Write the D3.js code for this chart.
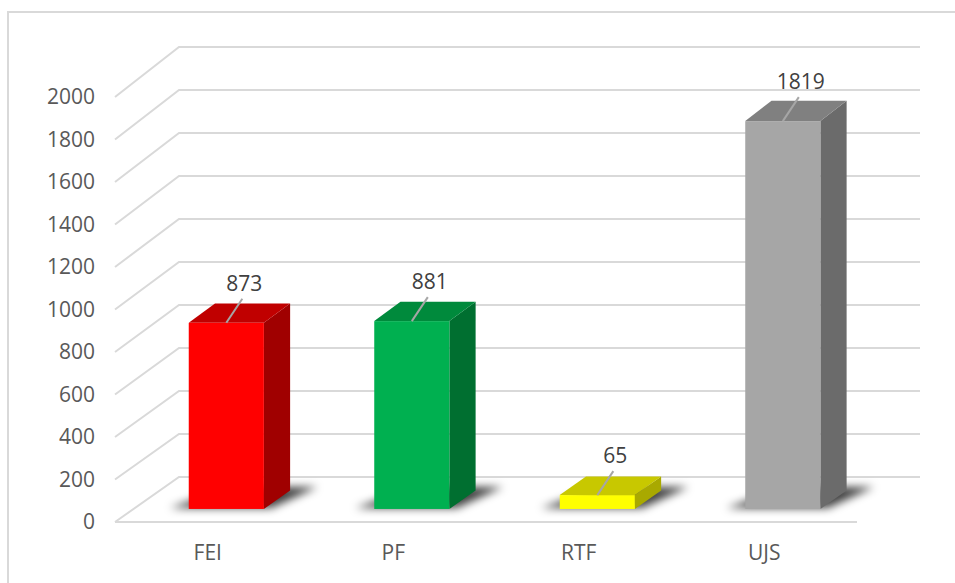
<!DOCTYPE html>
<html>
<head>
<meta charset="utf-8">
<script src="https://cdn.jsdelivr.net/npm/d3@7"></script>
<style>
  html, body { margin: 0; padding: 0; background: #fff; }
  svg { display: block; }
</style>
</head>
<body>
<script>
// ---- data ----
const categories = ["FEI", "PF", "RTF", "UJS"];
const values = [873, 881, 65, 1819];
const tickValues = [0, 200, 400, 600, 800, 1000, 1200, 1400, 1600, 1800, 2000];
const frontColors = ["#ff0000", "#00b050", "#ffff00", "#a6a6a6"];
const topColors   = ["#c00000", "#008a3c", "#c8c800", "#808080"];
const sideColors  = ["#a00000", "#006f30", "#a9a900", "#6b6b6b"];

const W = 955, H = 583;
const svg = d3.select("body").append("svg").attr("width", W).attr("height", H);

const defs = svg.append("defs");
defs.append("filter").attr("id", "blur").attr("x", "-50%").attr("y", "-50%")
  .attr("width", "200%").attr("height", "200%")
  .append("feGaussianBlur").attr("stdDeviation", 4);

// frame
svg.append("rect").attr("x", 8).attr("y", 12).attr("width", 990).attr("height", 640)
  .attr("fill", "#fff").attr("stroke", "#d9d9d9").attr("stroke-width", 2);

// ---- scales (pseudo 3D) ----
const x = d3.scaleBand().domain(categories).range([115, 857]).paddingInner(0).paddingOuter(0);
const yFront = d3.scaleLinear().domain([0, 2000]).range([522, 97]);
const yBack  = d3.scaleLinear().domain([0, 2000]).range([477, 47]);
const depthX = 64;
const backRight = 920;

function P(px, v, z) {
  return [px + z * depthX, yFront(v) + z * (yBack(v) - yFront(v))];
}
const line = d3.line();

// ---- gridlines ----
const grid = svg.append("g").attr("fill", "none").attr("stroke", "#d9d9d9").attr("stroke-width", 2);
tickValues.forEach(t => {
  const a = P(115, t, 0), b = P(115, t, 1);
  grid.append("path").attr("d", line([a, b, [backRight, b[1]]]));
});
grid.append("path").attr("d", line([P(115, 0, 0), P(857, 0, 0)]));

// ---- axes ----
const fontFamily = "'Open Sans', 'Liberation Sans', sans-serif";
const yAxis = svg.append("g").attr("transform", "translate(101,0)")
  .call(d3.axisLeft(yFront).tickValues(tickValues).tickSize(0).tickPadding(6).tickFormat(d3.format("d")));
yAxis.select(".domain").remove();
yAxis.selectAll("text").attr("font-family", fontFamily).attr("font-size", 21).attr("fill", "#595959");

const xAxis = svg.append("g").attr("transform", `translate(0,${yFront(0)})`)
  .call(d3.axisBottom(x).tickSize(0).tickPadding(23));
xAxis.select(".domain").remove();
xAxis.selectAll("text").attr("font-family", fontFamily).attr("font-size", 21).attr("fill", "#595959");

// ---- bars ----
const z0 = 0.29, z1 = 0.70;
const barFrac = 0.405;
const bars = categories.map((c, i) => {
  const cx = x(c) + x.bandwidth() / 2;
  const bw = x.bandwidth() * barFrac;
  return { c, i, v: values[i], xl: cx - bw / 2, xr: cx + bw / 2, cx };
});

// shadows
const shadowG = svg.append("g").attr("filter", "url(#blur)");
bars.forEach(b => {
  shadowG.append("path")
    .attr("d", line([P(b.xl - 20, 0, z0 + 0.02), P(b.xr + 6, 0, z0 + 0.02), P(b.xr + 22, 0, z1 + 0.08), P(b.xl + 10, 0, z1 + 0.08)]) + "Z")
    .attr("fill", "#000").attr("opacity", 0.75);
});

const barG = svg.append("g");
bars.forEach(b => {
  const g = barG.append("g");
  // side
  g.append("path").attr("d", line([P(b.xr, 0, z0), P(b.xr, b.v, z0), P(b.xr, b.v, z1), P(b.xr, 0, z1)]) + "Z")
    .attr("fill", sideColors[b.i]);
  // top
  g.append("path").attr("d", line([P(b.xl, b.v, z0), P(b.xr, b.v, z0), P(b.xr, b.v, z1), P(b.xl, b.v, z1)]) + "Z")
    .attr("fill", topColors[b.i]);
  // front
  const fl = P(b.xl, b.v, z0), fr = P(b.xr, 0, z0);
  g.append("rect").attr("x", fl[0]).attr("y", fl[1]).attr("width", fr[0] - fl[0]).attr("height", fr[1] - fl[1])
    .attr("fill", frontColors[b.i]);
});

// ---- data labels with leader lines ----
const labG = svg.append("g");
bars.forEach(b => {
  const s = P(b.cx, b.v, z0);
  labG.append("line").attr("x1", s[0]).attr("y1", s[1]).attr("x2", s[0] + 16).attr("y2", s[1] - 24)
    .attr("stroke", "#a6a6a6").attr("stroke-width", 2);
  labG.append("text").attr("x", s[0] + 18).attr("y", s[1] - 40)
    .attr("text-anchor", "middle").attr("dominant-baseline", "central")
    .attr("font-family", fontFamily).attr("font-size", 21).attr("fill", "#404040")
    .text(b.v);
});
</script>
</body>
</html>
